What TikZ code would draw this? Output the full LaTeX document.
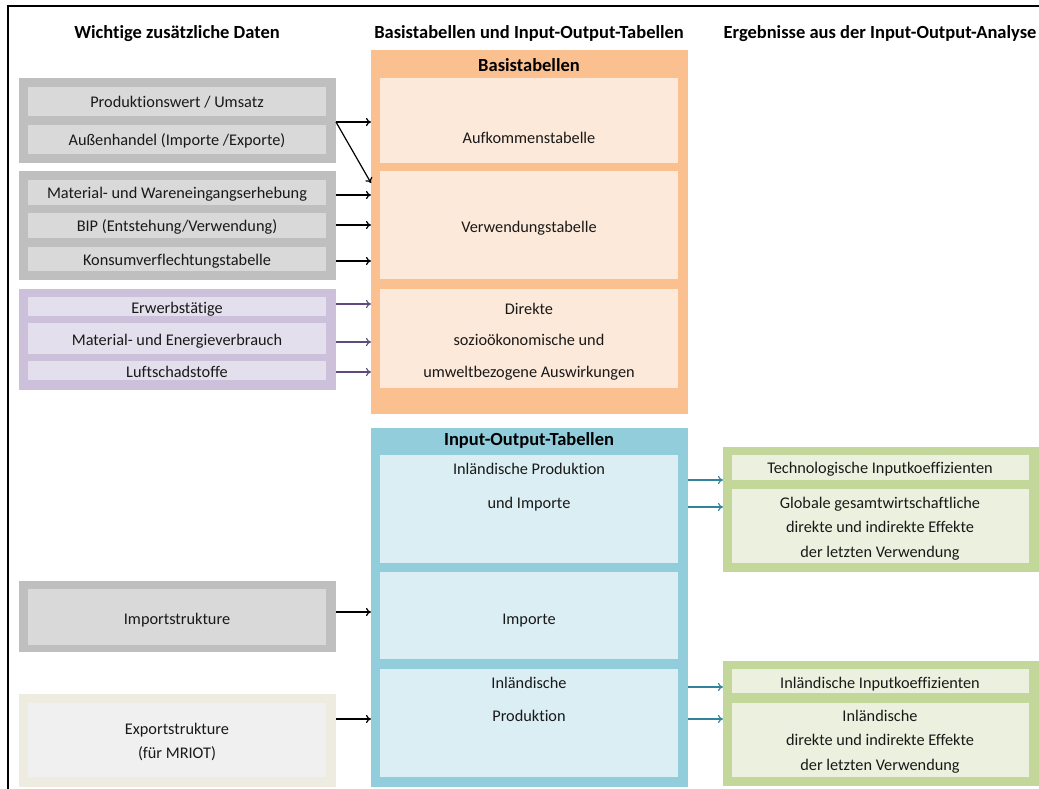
\documentclass[tikz,border=0pt]{standalone}
\usepackage{fontspec}
\setmainfont{Carlito}[Ligatures=NoCommon]
\usetikzlibrary{arrows.meta}

\definecolor{grayOut}{HTML}{BFBFBF}
\definecolor{grayIn}{HTML}{D9D9D9}
\definecolor{purpOut}{HTML}{CCC0DA}
\definecolor{purpIn}{HTML}{E4DFEC}
\definecolor{orOut}{HTML}{FAC090}
\definecolor{orIn}{HTML}{FDE9D9}
\definecolor{blOut}{HTML}{92CDDC}
\definecolor{blIn}{HTML}{DAEEF3}
\definecolor{grOut}{HTML}{C4D79B}
\definecolor{grIn}{HTML}{EBF1DE}
\definecolor{exOut}{HTML}{EEECE1}
\definecolor{exIn}{HTML}{F0F0F0}
\definecolor{purpArr}{HTML}{604A7B}
\definecolor{tealArr}{HTML}{31849B}

% rectangle node from its corners: name, style, x1, y1, x2, y2
\newcommand\panel[6]{%
  \node[#2, anchor=north west, minimum width={#5pt-#3pt},
        minimum height={#6pt-#4pt}] (#1) at (#3,#4) {};}

\tikzset{
  boxbase/.style={draw=none, inner sep=0pt, outer sep=0pt},
  grayouter/.style={boxbase, fill=grayOut},
  grayinner/.style={boxbase, fill=grayIn},
  purpouter/.style={boxbase, fill=purpOut},
  purpinner/.style={boxbase, fill=purpIn},
  orouter/.style={boxbase, fill=orOut},
  orinner/.style={boxbase, fill=orIn},
  blouter/.style={boxbase, fill=blOut},
  blinner/.style={boxbase, fill=blIn},
  grouter/.style={boxbase, fill=grOut},
  grinner/.style={boxbase, fill=grIn},
  exouter/.style={boxbase, fill=exOut},
  exinner/.style={boxbase, fill=exIn},
  txt/.style={inner sep=0pt, text height=0.7em, text depth=0.2em, yshift=-3pt,
              font=\fontsize{16.3}{19}\selectfont, text=black!90},
  head/.style={txt, yshift=-0.5pt, font=\fontsize{18.5}{22}\selectfont\bfseries, text=black},
  arr/.style={-{To[length=5pt,width=8pt]}, line width=1.2pt, black},
  parr/.style={arr, purpArr, line width=1.1pt},
  tarr/.style={arr, tealArr, line width=1.1pt},
}

\begin{document}
\begin{tikzpicture}[x=1pt,y=-1pt]
\useasboundingbox (0,0) rectangle (1039,789);
\fill[white] (0,0) rectangle (1039,789);

% frame
\draw[line width=2pt, black] (8,795) -- (8,6) -- (1045,6);

% column headings
\node[head] (h1) at (177,33) {Wichtige zusätzliche Daten};
\node[head] (h2) at (529,33) {Basistabellen und Input-Output-Tabellen};
\node[head] (h3) at (880,33) {Ergebnisse aus der Input-Output-Analyse};

% additional data, left column
\panel{g1}{grayouter}{19}{78}{336}{163}
\panel{prod}{grayinner}{28}{87}{326}{116}
\panel{aussen}{grayinner}{28}{125}{326}{154}
\node[txt] (tprod) at (177,102) {Produktionswert / Umsatz};
\node[txt] (taussen) at (177,140) {Außenhandel (Importe /Exporte)};

\panel{g2}{grayouter}{19}{171}{336}{280}
\panel{mat}{grayinner}{28}{180}{326}{205}
\panel{bip}{grayinner}{28}{213}{326}{238}
\panel{kons}{grayinner}{28}{247}{326}{271}
\node[txt] (tmat) at (177,193) {Material- und Wareneingangserhebung};
\node[txt] (tbip) at (177,226) {BIP (Entstehung/Verwendung)};
\node[txt] (tkons) at (177,260) {Konsumverflechtungstabelle};

\panel{g3}{purpouter}{19}{289}{336}{390}
\panel{erw}{purpinner}{28}{297}{326}{316}
\panel{mev}{purpinner}{28}{323}{326}{354}
\panel{luft}{purpinner}{28}{361}{326}{380}
\node[txt] (terw) at (177,308) {Erwerbstätige};
\node[txt] (tmev) at (177,340) {Material- und Energieverbrauch};
\node[txt] (tluft) at (177,372) {Luftschadstoffe};

\panel{gi}{grayouter}{19}{581}{336}{652}
\panel{imps}{grayinner}{28}{589}{326}{645}
\node[txt] (timps) at (177,619) {Importstrukture};

\panel{ge}{exouter}{19}{694}{336}{787}
\panel{exps}{exinner}{28}{703}{326}{777}
\node[txt] (texps1) at (177,729) {Exportstrukture};
\node[txt] (texps2) at (177,753) {(für MRIOT)};

% base tables
\panel{bt}{orouter}{371}{50}{688}{414}
\node[head] (tbt) at (529,66) {Basistabellen};
\panel{aufk}{orinner}{380}{78}{678}{163}
\panel{verw}{orinner}{380}{171}{678}{279}
\panel{dir}{orinner}{380}{289}{678}{388}
\node[txt] (taufk) at (529,138) {Aufkommenstabelle};
\node[txt] (tverw) at (529,227) {Verwendungstabelle};
\node[txt] (tdir1) at (529,309) {Direkte};
\node[txt] (tdir2) at (529,340) {sozioökonomische und};
\node[txt] (tdir3) at (529,372) {umweltbezogene Auswirkungen};

% input-output tables
\panel{iot}{blouter}{371}{428}{688}{787}
\node[head] (tiot) at (529,439) {Input-Output-Tabellen};
\panel{ipi}{blinner}{380}{455}{678}{563}
\panel{imp}{blinner}{380}{572}{678}{659}
\panel{inl}{blinner}{380}{669}{678}{777}
\node[txt] (tipi1) at (529,469) {Inländische Produktion};
\node[txt] (tipi2) at (529,503) {und Importe};
\node[txt] (timp) at (529,619) {Importe};
\node[txt] (tinl1) at (529,683) {Inländische};
\node[txt] (tinl2) at (529,716) {Produktion};

% results
\panel{r1}{grouter}{723}{447}{1039}{572}
\panel{tech}{grinner}{732}{455}{1029}{480}
\panel{glob}{grinner}{732}{489}{1029}{563}
\node[txt] (ttech) at (880,468) {Technologische Inputkoeffizienten};
\node[txt] (tglob1) at (880,503) {Globale gesamtwirtschaftliche};
\node[txt] (tglob2) at (880,527) {direkte und indirekte Effekte};
\node[txt] (tglob3) at (880,552) {der letzten Verwendung};

\panel{r2}{grouter}{723}{661}{1039}{786}
\panel{inlk}{grinner}{732}{669}{1029}{693}
\panel{inle}{grinner}{732}{703}{1029}{777}
\node[txt] (tinlk) at (880,683) {Inländische Inputkoeffizienten};
\node[txt] (tinle1) at (880,716) {Inländische};
\node[txt] (tinle2) at (880,740) {direkte und indirekte Effekte};
\node[txt] (tinle3) at (880,765) {der letzten Verwendung};

% connectors into the base tables
\draw[arr] (g1.east |- 0,122) -- (bt.west |- 0,122);
\draw[arr] (g1.east |- 0,122) -- (bt.west |- 0,183);
\draw[arr] (g2.east |- 0,195) -- (bt.west |- 0,195);
\draw[arr] (g2.east |- 0,225) -- (bt.west |- 0,225);
\draw[arr] (g2.east |- 0,261) -- (bt.west |- 0,261);
\draw[parr] (g3.east |- 0,304) -- (bt.west |- 0,304);
\draw[parr] (g3.east |- 0,342) -- (bt.west |- 0,342);
\draw[parr] (g3.east |- 0,372) -- (bt.west |- 0,372);

% connectors into the input-output tables
\draw[arr] (gi.east |- 0,612) -- (iot.west |- 0,612);
\draw[arr] (ge.east |- 0,719) -- (iot.west |- 0,719);

% connectors to the results
\draw[tarr] (iot.east |- 0,480) -- (r1.west |- 0,480);
\draw[tarr] (iot.east |- 0,507) -- (r1.west |- 0,507);
\draw[tarr] (iot.east |- 0,687) -- (r2.west |- 0,687);
\draw[tarr] (iot.east |- 0,719) -- (r2.west |- 0,719);
\end{tikzpicture}
\end{document}
